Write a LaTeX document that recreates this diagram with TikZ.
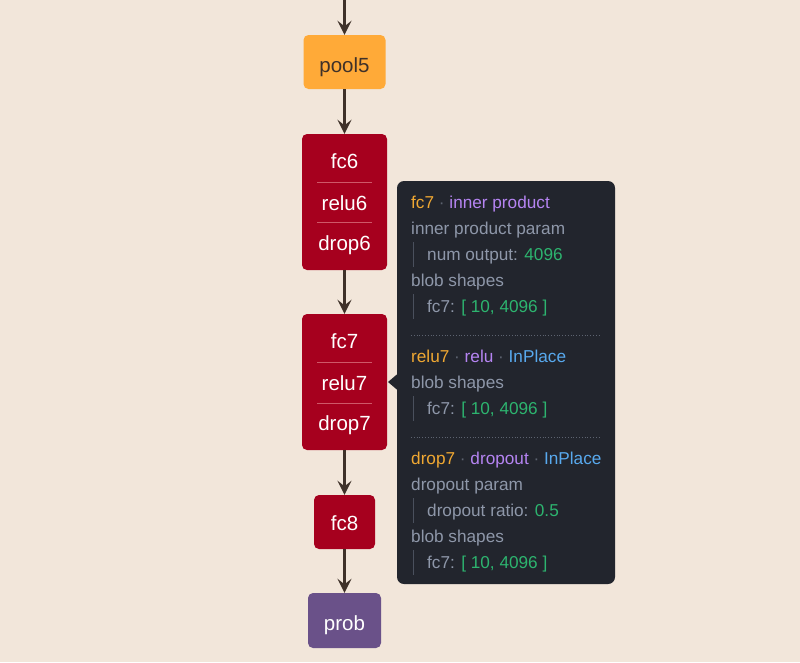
\documentclass[tikz,border=0pt]{standalone}
\usepackage{fontspec}
\setmainfont{Liberation Sans}
\usetikzlibrary{arrows.meta}
\definecolor{bgc}{HTML}{F2E6DA}
\definecolor{redc}{HTML}{A6001E}
\definecolor{orangec}{HTML}{FFAA38}
\definecolor{purplec}{HTML}{6A5189}
\definecolor{arrowc}{HTML}{3F3129}
\definecolor{tipc}{HTML}{22252D}
\definecolor{tname}{HTML}{F0A832}
\definecolor{ttype}{HTML}{B584F2}
\definecolor{tinpl}{HTML}{58A9EE}
\definecolor{tnum}{HTML}{2DB46F}
\definecolor{tgray}{HTML}{8E97A9}
\definecolor{tdot}{HTML}{5D6370}
\definecolor{tbar}{HTML}{4A505D}
\definecolor{divc}{HTML}{CF5868}
\tikzset{
  layer/.style={rectangle, rounded corners=5pt, inner sep=0pt},
  lbl/.style={anchor=base, inner sep=0pt, text=white, font=\fontsize{20.5}{24}\selectfont},
  conn/.style={draw=arrowc, line width=2.3pt, -{Stealth[length=14pt,width=14pt,inset=5.5pt]}},
  tl/.style={anchor=base west, inner sep=0pt, text=tgray, font=\fontsize{17.2}{20}\selectfont},
  bar/.style={draw=tbar, line width=1pt},
  sep/.style={draw=tdot, line width=0.8pt, dotted},
  divline/.style={draw=divc, line width=0.9pt}
}
\newcommand{\dt}{\textcolor{tdot}{·}}
\begin{document}
\begin{tikzpicture}[x=1pt,y=-1pt]
\useasboundingbox (0,0) rectangle (800,662);
\fill[bgc] (0,0) rectangle (800,662);

% layers
\node[layer, fill=orangec, minimum width=82pt, minimum height=54pt] (pool5box) at (344.5,62) {};
\node[lbl, text=arrowc] (pool5) at (344.5,72) {pool5};

\node[layer, fill=redc, minimum width=85pt, minimum height=136pt] (blk6) at (344.5,202) {};
\node[lbl] (fc6) at (344.5,168) {fc6};
\node[lbl] (relu6) at (344.5,210) {relu6};
\node[lbl] (drop6) at (344.5,250) {drop6};
\draw[divline] (317,182.5) -- (372,182.5);
\draw[divline] (317,222.5) -- (372,222.5);

\node[layer, fill=redc, minimum width=85pt, minimum height=136pt] (blk7) at (344.5,382) {};
\node[lbl] (fc7) at (344.5,348) {fc7};
\node[lbl] (relu7) at (344.5,390) {relu7};
\node[lbl] (drop7) at (344.5,430.5) {drop7};
\draw[divline] (317,362.5) -- (372,362.5);
\draw[divline] (317,403.5) -- (372,403.5);

\node[layer, fill=redc, minimum width=61pt, minimum height=54pt] (fc8box) at (344.5,522) {};
\node[lbl] (fc8) at (344.5,530.5) {fc8};
\node[layer, fill=purplec, minimum width=73pt, minimum height=55pt] (probbox) at (344.5,620.5) {};
\node[lbl] (prob) at (344.5,630.5) {prob};

\coordinate (top) at (344.5,0);
\draw[conn] (top) -- (pool5box.north);
\draw[conn] (pool5box.south) -- (blk6.north);
\draw[conn] (blk6.south) -- (blk7.north);
\draw[conn] (blk7.south) -- (fc8box.north);
\draw[conn] (fc8box.south) -- (probbox.north);

% tooltip
\node[rectangle, rounded corners=7pt, fill=tipc, minimum width=218pt, minimum height=403pt, inner sep=0pt] (tip) at (506,382.5) {};
\fill[tipc] (388,382) -- (398,373.5) -- (398,390.5) -- cycle;

\node[tl] (h1) at (411,208) {\textcolor{tname}{fc7} \dt{} \textcolor{ttype}{inner product}};
\node[tl] (l2) at (411,234) {inner product param};
\draw[bar] (413,242) -- (413,267);
\node[tl] (l3) at (427,260) {num output: \textcolor{tnum}{4096}};
\node[tl] (l4) at (411,286) {blob shapes};
\draw[bar] (413,294) -- (413,319);
\node[tl] (l5) at (427,312) {fc7: \textcolor{tnum}{[ 10, 4096 ]}};
\draw[sep] (411,335) -- (601,335);

\node[tl] (h2) at (411,362) {\textcolor{tname}{relu7} \dt{} \textcolor{ttype}{relu} \dt{} \textcolor{tinpl}{InPlace}};
\node[tl] (l6) at (411,388) {blob shapes};
\draw[bar] (413,396) -- (413,421);
\node[tl] (l7) at (427,414) {fc7: \textcolor{tnum}{[ 10, 4096 ]}};
\draw[sep] (411,437) -- (601,437);

\node[tl] (h3) at (411,464) {\textcolor{tname}{drop7} \dt{} \textcolor{ttype}{dropout} \dt{} \textcolor{tinpl}{InPlace}};
\node[tl] (l8) at (411,490) {dropout param};
\draw[bar] (413,498) -- (413,523);
\node[tl] (l9) at (427,516) {dropout ratio: \textcolor{tnum}{0.5}};
\node[tl] (l10) at (411,542) {blob shapes};
\draw[bar] (413,550) -- (413,575);
\node[tl] (l11) at (427,568) {fc7: \textcolor{tnum}{[ 10, 4096 ]}};
\end{tikzpicture}
\end{document}
